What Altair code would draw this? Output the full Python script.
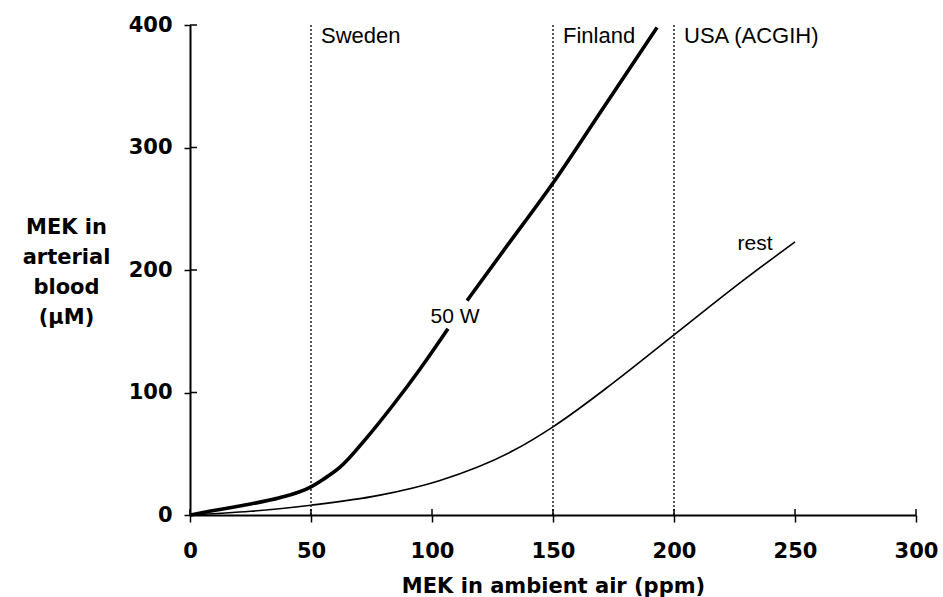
import altair as alt
import pandas as pd

# ---- data ----
rest_x = [0, 25, 50, 78, 103, 134, 150, 175, 200, 225, 250]
rest_y = [0, 3, 8, 16, 28, 53, 72, 108, 147, 186, 223]

w50_lo_x = [0, 8, 16.5, 25, 37, 50, 55, 62, 73, 84, 95, 106.6]
w50_lo_y = [0, 3, 6, 9, 14, 23, 29, 39, 63, 90, 119, 152]
w50_hi_x = [114.5, 130, 150, 170, 193]
w50_hi_y = [175, 217, 271, 330, 398]

limit_ppm = [50, 150, 200]
limit_names = ["Sweden", "Finland", "USA (ACGIH)"]

curve_labels = ["50 W", "rest"]
curve_label_x = [109.5, 233.5]
curve_label_y = [157, 216]

x_ticks = [0, 50, 100, 150, 200, 250, 300]
y_ticks = [0, 100, 200, 300, 400]

# ---- tables ----
rest_df = pd.DataFrame({"x": rest_x, "y": rest_y})
w50_df = pd.DataFrame({
    "x": w50_lo_x + w50_hi_x,
    "y": w50_lo_y + w50_hi_y,
    "seg": ["lo"] * len(w50_lo_x) + ["hi"] * len(w50_hi_x),
})
lim_df = pd.DataFrame({"x": limit_ppm, "name": limit_names, "y": [385] * 3})
lab_df = pd.DataFrame({"x": curve_label_x, "y": curve_label_y, "t": curve_labels})
xt_df = pd.DataFrame({"x": x_ticks})
yt_df = pd.DataFrame({"y": y_ticks})

xs = alt.Scale(domain=[0, 300], nice=False, zero=False)
ys = alt.Scale(domain=[0, 400], nice=False, zero=False)

BOLD = "DejaVu Sans"
REG = "Liberation Sans"

x_axis = alt.Axis(
    values=x_ticks, grid=False, tickSize=7, tickWidth=1.5, tickColor="black",
    domainColor="black", domainWidth=2, labelFont=BOLD, labelFontWeight="bold",
    labelFontSize=21, labelColor="black", labelFlush=False, labelBaseline="alphabetic",
    labelPadding=35, title="MEK in ambient air (ppm)", titleFont=BOLD,
    titleFontWeight="bold", titleFontSize=21, titleColor="black",
    titleBaseline="alphabetic", titleY=77,
)
y_axis = alt.Axis(
    values=y_ticks, grid=False, tickSize=6, tickWidth=1.5, tickColor="black",
    domainColor="black", domainWidth=2, labelFont=BOLD, labelFontWeight="bold",
    labelFontSize=21, labelColor="black", labelFlush=False, labelPadding=12,
    title=["MEK in", "arterial", "blood", "(µM)"], titleFont=BOLD,
    titleFontWeight="bold", titleFontSize=21, titleColor="black", titleAngle=0,
    titleAlign="center", titleBaseline="alphabetic", titleX=-124, titleY=208,
    titleLineHeight=30,
)


def X():
    return alt.X("x:Q", scale=xs, axis=x_axis)


def Y():
    return alt.Y("y:Q", scale=ys, axis=y_axis)


rest_line = alt.Chart(rest_df).mark_line(
    color="black", strokeWidth=1.6, interpolate="monotone"
).encode(x=X(), y=Y())

w50_line = alt.Chart(w50_df).mark_line(
    color="black", strokeWidth=3.6, interpolate="monotone"
).encode(x=X(), y=Y(), detail="seg:N")

lim_rules = alt.Chart(lim_df).mark_rule(
    color="#222222", strokeWidth=1.5, strokeDash=[2, 2]
).encode(x=X())

lim_text = alt.Chart(lim_df).mark_text(
    align="left", baseline="alphabetic", dx=10, font=REG, fontSize=22, color="black"
).encode(x=X(), y=Y(), text="name:N")

curve_text = alt.Chart(lab_df).mark_text(
    align="center", baseline="alphabetic", font=REG, fontSize=21, color="black"
).encode(x=X(), y=Y(), text="t:N")

# inner halves of the crossing tick marks
x_inner = alt.Chart(xt_df).mark_rule(color="black", strokeWidth=1.5).encode(
    x=X(), y=alt.value(490), y2=alt.value(484)
)
y_inner = alt.Chart(yt_df).mark_rule(color="black", strokeWidth=1.5).encode(
    y=Y(), x=alt.value(0), x2=alt.value(7)
)

chart = alt.layer(
    rest_line, lim_rules, w50_line, lim_text, curve_text, x_inner, y_inner
).properties(
    width=726, height=490,
    padding={"left": 190, "top": 25, "right": 27, "bottom": 82},
    autosize=alt.AutoSizeParams(type="none"),
    background="white",
).configure_view(stroke=None)

chart.save("out.html", embed_options={"renderer": "svg", "actions": False})
